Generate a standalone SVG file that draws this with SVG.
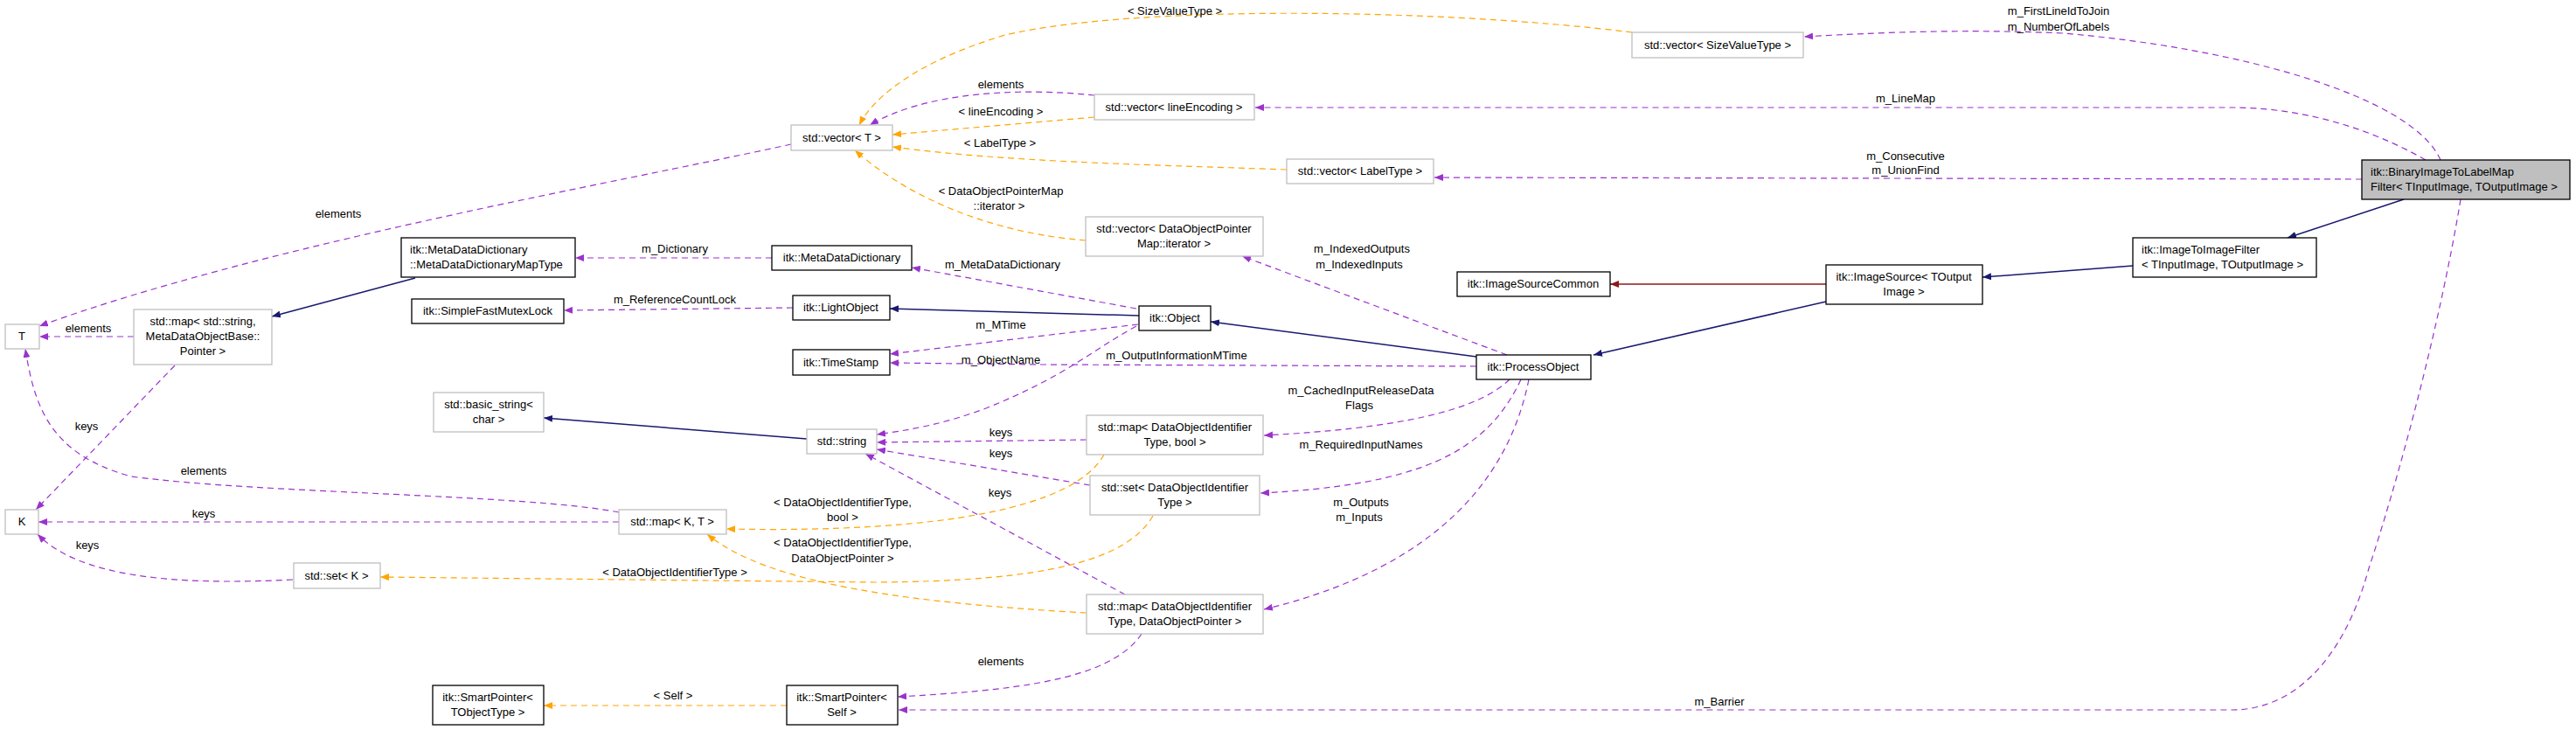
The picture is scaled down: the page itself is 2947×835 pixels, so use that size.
<svg xmlns="http://www.w3.org/2000/svg" width="2947" height="835" viewBox="0 0 2947 835">
<style>
text{font-family:"Liberation Sans",Arial,sans-serif;font-size:13px;fill:#000}
.n rect{fill:#fff;stroke:#000;stroke-width:1.3}
.g rect{stroke:#bfbfbf}
.c{text-anchor:middle}
.p{fill:none;stroke:#9a32cd;stroke-dasharray:7,5;stroke-width:1.2;marker-end:url(#mp)}
.o{fill:none;stroke:#ffa500;stroke-dasharray:7,5;stroke-width:1.2;marker-end:url(#mo)}
.b{fill:none;stroke:#191970;stroke-width:1.5;marker-end:url(#mb)}
.r{fill:none;stroke:#8b1a1a;stroke-width:1.5;marker-end:url(#mr)}
.l{text-anchor:middle}
</style>
<defs>
<marker id="mp" markerUnits="userSpaceOnUse" markerWidth="11" markerHeight="8" refX="10" refY="4" orient="auto"><path d="M0,0L10,4L0,8z" fill="#9a32cd"/></marker>
<marker id="mo" markerUnits="userSpaceOnUse" markerWidth="11" markerHeight="8" refX="10" refY="4" orient="auto"><path d="M0,0L10,4L0,8z" fill="#ffa500"/></marker>
<marker id="mb" markerUnits="userSpaceOnUse" markerWidth="11" markerHeight="8" refX="10" refY="4" orient="auto"><path d="M0,0L10,4L0,8z" fill="#191970"/></marker>
<marker id="mr" markerUnits="userSpaceOnUse" markerWidth="11" markerHeight="8" refX="10" refY="4" orient="auto"><path d="M0,0L10,4L0,8z" fill="#8b1a1a"/></marker>
</defs>
<rect width="2947" height="835" fill="#fff"/>
<g id="edges">
<path class="p" d="M2792,183 C2760,110 2560,55 2360,38 C2250,33 2150,37 2064,42"/>
<path class="p" d="M2775,183 C2700,140 2620,123 2554,123 L1436,123"/>
<path class="p" d="M2702,205 L1641,203"/>
<path class="p" d="M2815,228 C2790,380 2740,560 2710,650 C2680,760 2620,812 2554,812 L1028,812"/>
<path class="b" d="M2750,228 L2617,272"/>
<path class="b" d="M2440,304 L2268,317"/>
<path class="r" d="M2089,325 L1842,325"/>
<path class="b" d="M2089,345 L1823,406"/>
<path class="b" d="M1689,408 L1385,368"/>
<path class="b" d="M1303,361 L1018,353"/>
<path class="p" d="M1300,353 L1043,306"/>
<path class="p" d="M1302,371 L1018,405"/>
<path class="p" d="M1689,419 L1191,417 L1018,415"/>
<path class="p" d="M1300,373 C1250,400 1220,430 1128,467 C1080,485 1040,492 1003,497"/>
<path class="p" d="M1724,406 L1421,293"/>
<path class="p" d="M1727,434 C1690,470 1600,490 1446,498"/>
<path class="p" d="M1740,434 C1700,520 1620,555 1442,564"/>
<path class="p" d="M1749,434 C1720,580 1600,660 1446,697"/>
<path class="p" d="M1243,503 L1003,506"/>
<path class="p" d="M1247,555 L1003,514"/>
<path class="p" d="M1287,680 L990,519"/>
<path class="p" d="M1252,109 C1165,100 1060,105 995,143"/>
<path class="o" d="M1252,134 L1021,154"/>
<path class="o" d="M1472,194 C1300,188 1150,185 1021,168"/>
<path class="o" d="M1867,37 C1650,10 1300,5 1150,40 C1050,70 1000,110 983,143"/>
<path class="o" d="M1242,275 C1150,268 1050,235 978,172"/>
<path class="p" d="M905,165 C700,210 300,280 45,373"/>
<path class="p" d="M153,385 L45,385"/>
<path class="p" d="M883,295 L658,295"/>
<path class="b" d="M475,318 L311,362"/>
<path class="p" d="M907,352 L645,355"/>
<path class="b" d="M923,502 L622,478"/>
<path class="p" d="M200,418 L41,583"/>
<path class="p" d="M708,586 C600,565 300,565 150,545 C60,520 40,470 29,399"/>
<path class="p" d="M708,597 L44,597"/>
<path class="p" d="M335,663 C200,670 90,660 43,611"/>
<path class="o" d="M1263,520 C1230,580 1080,610 831,605"/>
<path class="o" d="M1243,701 C1050,690 880,670 809,611"/>
<path class="o" d="M1319,590 C1290,640 1200,665 1000,666 L435,660"/>
<path class="p" d="M1306,725 C1270,780 1150,790 1027,797"/>
<path class="o" d="M900,807 L622,807"/>
<g class="lbl">
<text class="l" x="1344" y="17">&lt; SizeValueType &gt;</text>
<text class="l" x="2355" y="17">m_FirstLineIdToJoin</text>
<text class="l" x="2355" y="35">m_NumberOfLabels</text>
<text class="l" x="1145" y="101">elements</text>
<text class="l" x="1145" y="132">&lt; lineEncoding &gt;</text>
<text class="l" x="2180" y="117">m_LineMap</text>
<text class="l" x="1144" y="168">&lt; LabelType &gt;</text>
<text class="l" x="2180" y="183">m_Consecutive</text>
<text class="l" x="2180" y="199">m_UnionFind</text>
<text class="l" x="1145" y="223">&lt; DataObjectPointerMap</text>
<text class="l" x="1143" y="240">::iterator &gt;</text>
<text class="l" x="387" y="249">elements</text>
<text class="l" x="772" y="289">m_Dictionary</text>
<text class="l" x="1147" y="307">m_MetaDataDictionary</text>
<text class="l" x="1558" y="289">m_IndexedOutputs</text>
<text class="l" x="1555" y="307">m_IndexedInputs</text>
<text class="l" x="772" y="347">m_ReferenceCountLock</text>
<text class="l" x="1145" y="376">m_MTime</text>
<text class="l" x="101" y="380">elements</text>
<text class="l" x="1145" y="416">m_ObjectName</text>
<text class="l" x="1346" y="411">m_OutputInformationMTime</text>
<text class="l" x="1557" y="451">m_CachedInputReleaseData</text>
<text class="l" x="1555" y="468">Flags</text>
<text class="l" x="99" y="492">keys</text>
<text class="l" x="1145" y="499">keys</text>
<text class="l" x="1557" y="513">m_RequiredInputNames</text>
<text class="l" x="1145" y="523">keys</text>
<text class="l" x="233" y="543">elements</text>
<text class="l" x="1144" y="568">keys</text>
<text class="l" x="964" y="579">&lt; DataObjectIdentifierType,</text>
<text class="l" x="964" y="596">bool &gt;</text>
<text class="l" x="1557" y="579">m_Outputs</text>
<text class="l" x="1555" y="596">m_Inputs</text>
<text class="l" x="233" y="592">keys</text>
<text class="l" x="964" y="625">&lt; DataObjectIdentifierType,</text>
<text class="l" x="964" y="643">DataObjectPointer &gt;</text>
<text class="l" x="100" y="628">keys</text>
<text class="l" x="772" y="659">&lt; DataObjectIdentifierType &gt;</text>
<text class="l" x="1145" y="761">elements</text>
<text class="l" x="770" y="800">&lt; Self &gt;</text>
<text class="l" x="1967" y="807">m_Barrier</text>
</g>
</g>
<g id="binary" class="n"><rect x="2702" y="183" width="238" height="45" style="fill:#bfbfbf"/><text x="2712" y="201">itk::BinaryImageToLabelMap</text><text x="2712" y="218">Filter&lt; TInputImage, TOutputImage &gt;</text></g>
<g id="i2i" class="n"><rect x="2440" y="272" width="210" height="45"/><text x="2450" y="290">itk::ImageToImageFilter</text><text x="2450" y="307">&lt; TInputImage, TOutputImage &gt;</text></g>
<g id="isrc" class="n"><rect x="2089" y="303" width="179" height="45"/><text class="c" x="2178" y="321">itk::ImageSource&lt; TOutput</text><text class="c" x="2178" y="338">Image &gt;</text></g>
<g id="isc" class="n"><rect x="1667" y="311" width="175" height="28"/><text class="c" x="1754" y="329">itk::ImageSourceCommon</text></g>
<g id="po" class="n"><rect x="1689" y="406" width="131" height="28"/><text class="c" x="1754" y="424">itk::ProcessObject</text></g>
<g id="obj" class="n"><rect x="1303" y="350" width="82" height="28"/><text class="c" x="1344" y="368">itk::Object</text></g>
<g id="vecSize" class="n g"><rect x="1867" y="37" width="196" height="29"/><text class="c" x="1965" y="56">std::vector&lt; SizeValueType &gt;</text></g>
<g id="vecLine" class="n g"><rect x="1252" y="108" width="183" height="29"/><text class="c" x="1343" y="127">std::vector&lt; lineEncoding &gt;</text></g>
<g id="vecT" class="n g"><rect x="905" y="143" width="116" height="29"/><text class="c" x="963" y="162">std::vector&lt; T &gt;</text></g>
<g id="vecLabel" class="n g"><rect x="1472" y="182" width="168" height="28"/><text class="c" x="1556" y="200">std::vector&lt; LabelType &gt;</text></g>
<g id="vecIter" class="n g"><rect x="1242" y="248" width="203" height="45"/><text class="c" x="1343" y="266">std::vector&lt; DataObjectPointer</text><text class="c" x="1343" y="283">Map::iterator &gt;</text></g>
<g id="mdd" class="n"><rect x="883" y="281" width="160" height="28"/><text class="c" x="963" y="299">itk::MetaDataDictionary</text></g>
<g id="mddmt" class="n"><rect x="459" y="272" width="199" height="45"/><text x="469" y="290">itk::MetaDataDictionary</text><text x="469" y="307">::MetaDataDictionaryMapType</text></g>
<g id="lobj" class="n"><rect x="907" y="338" width="111" height="28"/><text class="c" x="962" y="356">itk::LightObject</text></g>
<g id="sfml" class="n"><rect x="471" y="342" width="174" height="28"/><text class="c" x="558" y="360">itk::SimpleFastMutexLock</text></g>
<g id="ts" class="n"><rect x="907" y="400" width="111" height="29"/><text class="c" x="962" y="419">itk::TimeStamp</text></g>
<g id="T" class="n g"><rect x="6" y="371" width="39" height="28"/><text class="c" x="25" y="389">T</text></g>
<g id="mapstr" class="n g"><rect x="153" y="354" width="158" height="63"/><text class="c" x="232" y="372">std::map&lt; std::string,</text><text class="c" x="232" y="389">MetaDataObjectBase::</text><text class="c" x="232" y="406">Pointer &gt;</text></g>
<g id="bstr" class="n g"><rect x="496" y="449" width="126" height="45"/><text class="c" x="559" y="467">std::basic_string&lt;</text><text class="c" x="559" y="484">char &gt;</text></g>
<g id="str" class="n g"><rect x="923" y="491" width="80" height="28"/><text class="c" x="963" y="509">std::string</text></g>
<g id="mapbool" class="n g"><rect x="1243" y="475" width="202" height="45"/><text class="c" x="1344" y="493">std::map&lt; DataObjectIdentifier</text><text class="c" x="1344" y="510">Type, bool &gt;</text></g>
<g id="setdoit" class="n g"><rect x="1247" y="544" width="194" height="45"/><text class="c" x="1344" y="562">std::set&lt; DataObjectIdentifier</text><text class="c" x="1344" y="579">Type &gt;</text></g>
<g id="mapptr" class="n g"><rect x="1243" y="680" width="202" height="45"/><text class="c" x="1344" y="698">std::map&lt; DataObjectIdentifier</text><text class="c" x="1344" y="715">Type, DataObjectPointer &gt;</text></g>
<g id="K" class="n g"><rect x="6" y="583" width="38" height="28"/><text class="c" x="25" y="601">K</text></g>
<g id="mapKT" class="n g"><rect x="708" y="583" width="123" height="28"/><text class="c" x="769" y="601">std::map&lt; K, T &gt;</text></g>
<g id="setK" class="n g"><rect x="336" y="644" width="99" height="29"/><text class="c" x="385" y="663">std::set&lt; K &gt;</text></g>
<g id="spT" class="n"><rect x="495" y="784" width="127" height="45"/><text class="c" x="558" y="802">itk::SmartPointer&lt;</text><text class="c" x="558" y="819">TObjectType &gt;</text></g>
<g id="spS" class="n"><rect x="900" y="784" width="127" height="45"/><text class="c" x="963" y="802">itk::SmartPointer&lt;</text><text class="c" x="963" y="819">Self &gt;</text></g>
</svg>
